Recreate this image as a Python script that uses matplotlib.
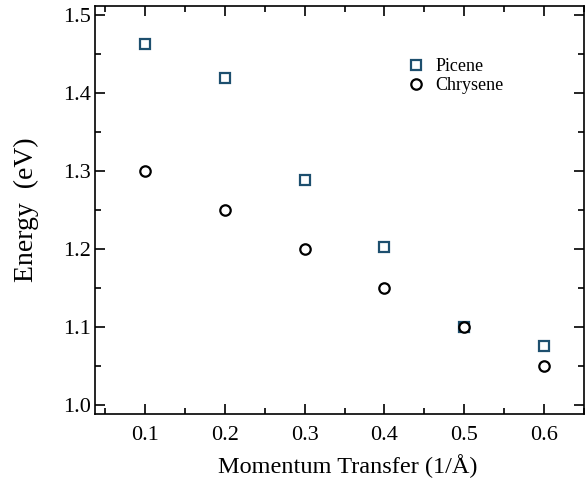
import matplotlib
matplotlib.use("Agg")
import matplotlib.pyplot as plt
from matplotlib.ticker import MultipleLocator

# Plasmon dispersion for the two molecular crystals
momentum = [0.1, 0.2, 0.3, 0.4, 0.5, 0.6]
picene = [1.463, 1.419, 1.288, 1.202, 1.100, 1.075]
chrysene = [1.300, 1.250, 1.200, 1.150, 1.100, 1.050]

plt.rcParams["font.family"] = ["Liberation Serif", "DejaVu Serif"]

fig = plt.figure(figsize=(5.88, 4.83), dpi=100)
ax = fig.add_axes([0.1616, 0.1429, 0.8316, 0.8447])

ax.plot(momentum, picene, linestyle="none", marker="s", markersize=6.5,
        markerfacecolor="white", markeredgecolor="#1d4f6e", markeredgewidth=1.6,
        label="Picene")
ax.plot(momentum, chrysene, linestyle="none", marker="o", markersize=7.5,
        markerfacecolor="white", markeredgecolor="black", markeredgewidth=1.6,
        label="Chrysene")

ax.set_xlim(0.0375, 0.65)
ax.set_ylim(0.988, 1.512)
ax.xaxis.set_major_locator(MultipleLocator(0.1))
ax.xaxis.set_minor_locator(MultipleLocator(0.05))
ax.yaxis.set_major_locator(MultipleLocator(0.1))
ax.yaxis.set_minor_locator(MultipleLocator(0.05))
ax.tick_params(which="both", direction="in", top=True, right=True,
               labelsize=16, width=1.2)
ax.tick_params(which="major", length=7)
ax.tick_params(which="minor", length=4)
ax.tick_params(axis="x", which="major", pad=9)
ax.tick_params(axis="y", which="major", pad=3)
for s in ax.spines.values():
    s.set_linewidth(1.2)

ax.set_xlabel("Momentum Transfer (1/Å)", fontsize=17.5, labelpad=6)
ax.xaxis.label.set_x(0.516)
ax.set_ylabel("Energy  (eV)", fontsize=20, labelpad=17)

ax.legend(loc="center left", bbox_to_anchor=(0.605, 0.828), frameon=False,
          fontsize=13, handletextpad=0.55, labelspacing=0.1,
          handlelength=1.0)

fig.savefig("out.png", dpi=100)
